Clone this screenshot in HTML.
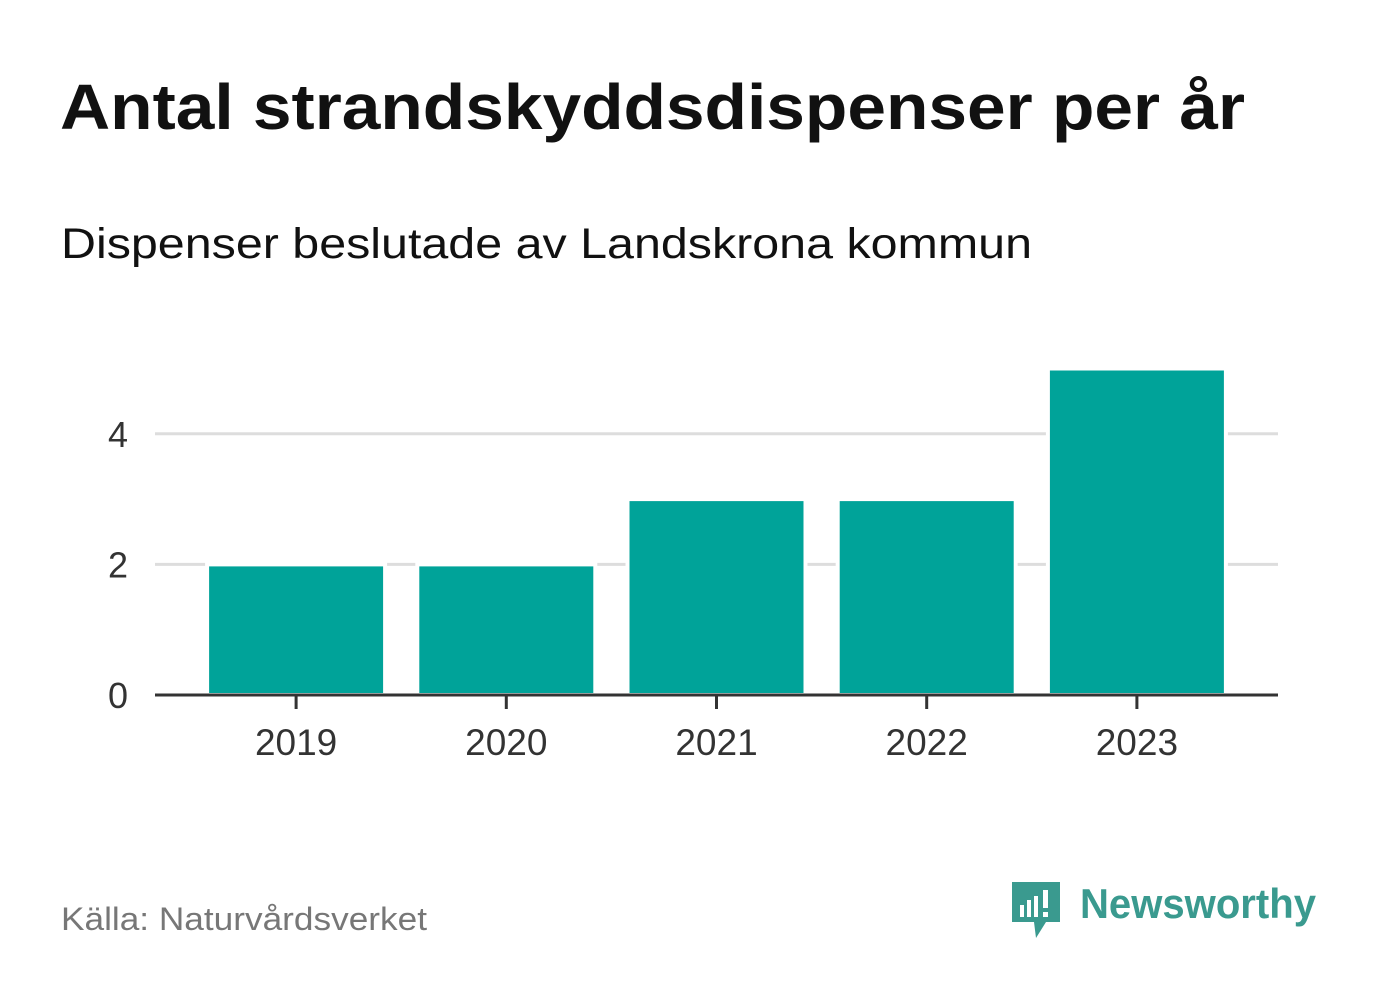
<!DOCTYPE html>
<html><head><meta charset="utf-8"><style>
body{margin:0;width:1382px;height:999px;background:#fff;overflow:hidden;font-family:"Liberation Sans",sans-serif;}
</style></head><body>
<svg width="1382" height="999" xmlns="http://www.w3.org/2000/svg">
<text x="60" y="129" font-size="64" font-weight="bold" fill="#111" textLength="1185" lengthAdjust="spacingAndGlyphs" font-family="Liberation Sans, sans-serif">Antal strandskyddsdispenser per år</text>
<text x="61" y="258" font-size="43" fill="#111" textLength="971" lengthAdjust="spacingAndGlyphs" font-family="Liberation Sans, sans-serif">Dispenser beslutade av Landskrona kommun</text>
<g id="grid"></g><g id="bars"></g><g id="axes"></g>
<text x="61" y="930" font-size="32" fill="#777" textLength="366" lengthAdjust="spacingAndGlyphs" font-family="Liberation Sans, sans-serif">Källa: Naturvårdsverket</text>
<g>
<path d="M1012 882 h48 v40 h-14 l-10 16 l-2 -16 h-22 z" fill="#3a9a8f"/>
<rect x="1020" y="905" width="4" height="12" fill="#fff"/><rect x="1027" y="900" width="4" height="17" fill="#fff"/><rect x="1034" y="896" width="4" height="21" fill="#fff"/><rect x="1043" y="890" width="5" height="18" fill="#fff"/><rect x="1043" y="912" width="5" height="5" fill="#fff"/>
<text x="1080" y="918" font-size="42" font-weight="bold" fill="#3a9a8f" textLength="236" lengthAdjust="spacingAndGlyphs" font-family="Liberation Sans, sans-serif">Newsworthy</text>
</g>
</svg>
<script>
const categories=["2019","2020","2021","2022","2023"];
const values=[2,2,3,3,5];
const yTicks=[0,2,4];
const NS="http://www.w3.org/2000/svg";
const x0=191,step=210.2,y0=695,unit=65.3;
const xs=i=>x0+i*step, ys=v=>y0-v*unit;
function mk(t,a,p){const e=document.createElementNS(NS,t);for(const k in a)e.setAttribute(k,a[k]);p.appendChild(e);return e;}
const g=document.getElementById('grid'),b=document.getElementById('bars'),ax=document.getElementById('axes');
yTicks.forEach(t=>{
 if(t>0){const l=mk('line',{x1:155,x2:1278,y1:ys(t),y2:ys(t),stroke:'#ddd','stroke-width':3},g);
 
 }
 const tx=mk('text',{x:128,y:ys(t)+13,'text-anchor':'end','font-size':36,fill:'#333','font-family':'Liberation Sans, sans-serif'},ax);
 tx.textContent=t;
 
 
});
categories.forEach((c,i)=>{
 const cx=xs(i)+step/2;
 const r=mk('rect',{x:cx-89,y:ys(values[i]),width:178,height:values[i]*unit,fill:'#00a399',stroke:'#fff','stroke-width':4},b);
 
 
 mk('line',{x1:cx,x2:cx,y1:y0,y2:y0+14,stroke:'#333','stroke-width':3},ax);
 const t=mk('text',{x:cx,y:755,'text-anchor':'middle','font-size':37,fill:'#333','font-family':'Liberation Sans, sans-serif'},ax);
 t.textContent=c;
 
 
});
const axl=mk('line',{x1:155,x2:1278,y1:y0,y2:y0,stroke:'#333','stroke-width':3},ax);


</script>
</body></html>
